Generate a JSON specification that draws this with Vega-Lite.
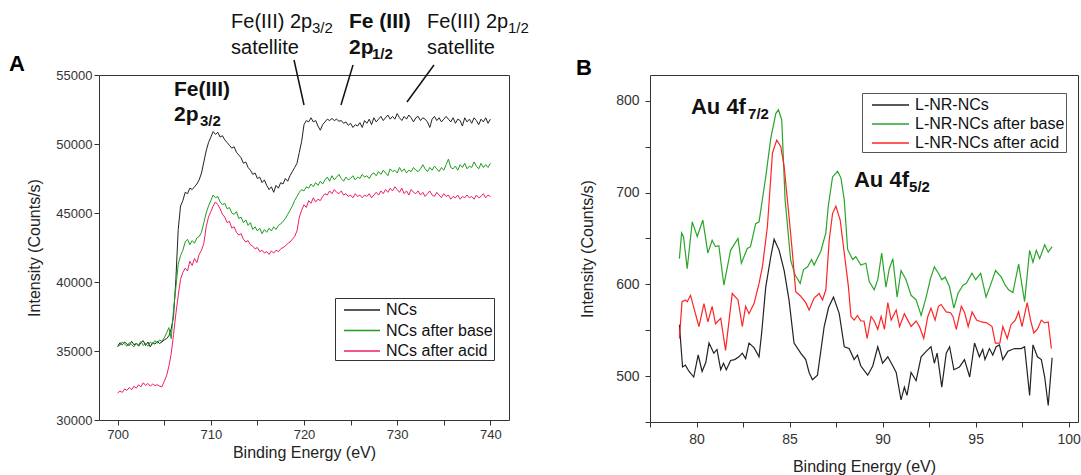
{
"$schema": "https://vega.github.io/schema/vega-lite/v6.json",
"padding": {"left": 8, "top": 10, "right": 2, "bottom": 0},
"spacing": 45,
"config": {
  "font": "Liberation Sans",
  "view": {"stroke": "#333", "strokeWidth": 1},
  "axis": {"grid": false, "domain": false, "tickColor": "#333", "labelColor": "#333", "labelFont": "Liberation Sans", "titleFont": "Liberation Sans", "titleFontWeight": "normal", "titleColor": "#222", "titleFontSize": 16},
  "legend": {"labelFont": "Liberation Sans"}
},
"resolve": {"scale": {"color": "independent"}, "legend": {"color": "independent"}},
"datasets": {
"fe": [
{"s":"NCs","x":700.0,"y":35300},{"s":"NCs","x":700.25,"y":35600},{"s":"NCs","x":700.5,"y":35450},{"s":"NCs","x":700.75,"y":35650},{"s":"NCs","x":701.0,"y":35500},{"s":"NCs","x":701.25,"y":35400},{"s":"NCs","x":701.5,"y":35700},{"s":"NCs","x":701.75,"y":35450},{"s":"NCs","x":702.0,"y":35550},{"s":"NCs","x":702.25,"y":35350},{"s":"NCs","x":702.5,"y":35600},{"s":"NCs","x":702.75,"y":35750},{"s":"NCs","x":703.0,"y":35400},{"s":"NCs","x":703.25,"y":35650},{"s":"NCs","x":703.5,"y":35300},{"s":"NCs","x":703.75,"y":35600},{"s":"NCs","x":704.0,"y":35500},{"s":"NCs","x":704.25,"y":35700},{"s":"NCs","x":704.5,"y":35550},{"s":"NCs","x":704.75,"y":35650},{"s":"NCs","x":705.0,"y":35800},{"s":"NCs","x":705.25,"y":35900},{"s":"NCs","x":705.5,"y":36100},{"s":"NCs","x":705.75,"y":36600},{"s":"NCs","x":706.0,"y":37500},{"s":"NCs","x":706.25,"y":40200},{"s":"NCs","x":706.5,"y":43800},{"s":"NCs","x":706.75,"y":45500},{"s":"NCs","x":707.0,"y":45900},{"s":"NCs","x":707.25,"y":46500},{"s":"NCs","x":707.5,"y":46400},{"s":"NCs","x":707.75,"y":46800},{"s":"NCs","x":708.0,"y":46700},{"s":"NCs","x":708.25,"y":46900},{"s":"NCs","x":708.5,"y":47100},{"s":"NCs","x":708.75,"y":47400},{"s":"NCs","x":709.0,"y":47900},{"s":"NCs","x":709.25,"y":48700},{"s":"NCs","x":709.5,"y":49500},{"s":"NCs","x":709.75,"y":50100},{"s":"NCs","x":710.0,"y":50500},{"s":"NCs","x":710.25,"y":50900},{"s":"NCs","x":710.5,"y":50700},{"s":"NCs","x":710.75,"y":50850},{"s":"NCs","x":711.0,"y":50500},{"s":"NCs","x":711.25,"y":50600},{"s":"NCs","x":711.5,"y":50300},{"s":"NCs","x":711.75,"y":50100},{"s":"NCs","x":712.0,"y":49900},{"s":"NCs","x":712.25,"y":49700},{"s":"NCs","x":712.5,"y":49800},{"s":"NCs","x":712.75,"y":49400},{"s":"NCs","x":713.0,"y":49200},{"s":"NCs","x":713.25,"y":49000},{"s":"NCs","x":713.5,"y":48600},{"s":"NCs","x":713.75,"y":48700},{"s":"NCs","x":714.0,"y":48300},{"s":"NCs","x":714.25,"y":48100},{"s":"NCs","x":714.5,"y":47800},{"s":"NCs","x":714.75,"y":47900},{"s":"NCs","x":715.0,"y":47500},{"s":"NCs","x":715.25,"y":47600},{"s":"NCs","x":715.5,"y":47200},{"s":"NCs","x":715.75,"y":47400},{"s":"NCs","x":716.0,"y":47000},{"s":"NCs","x":716.25,"y":46700},{"s":"NCs","x":716.5,"y":46900},{"s":"NCs","x":716.75,"y":46500},{"s":"NCs","x":717.0,"y":47000},{"s":"NCs","x":717.25,"y":46800},{"s":"NCs","x":717.5,"y":47200},{"s":"NCs","x":717.75,"y":47100},{"s":"NCs","x":718.0,"y":47500},{"s":"NCs","x":718.25,"y":47300},{"s":"NCs","x":718.5,"y":47700},{"s":"NCs","x":718.75,"y":48000},{"s":"NCs","x":719.0,"y":48300},{"s":"NCs","x":719.25,"y":48600},{"s":"NCs","x":719.5,"y":49400},{"s":"NCs","x":719.75,"y":50200},{"s":"NCs","x":720.0,"y":51400},{"s":"NCs","x":720.25,"y":51700},{"s":"NCs","x":720.5,"y":51600},{"s":"NCs","x":720.75,"y":51900},{"s":"NCs","x":721.0,"y":51600},{"s":"NCs","x":721.25,"y":51700},{"s":"NCs","x":721.5,"y":51300},{"s":"NCs","x":721.75,"y":51000},{"s":"NCs","x":722.0,"y":51400},{"s":"NCs","x":722.25,"y":51600},{"s":"NCs","x":722.5,"y":51800},{"s":"NCs","x":722.75,"y":51700},{"s":"NCs","x":723.0,"y":51850},{"s":"NCs","x":723.25,"y":51700},{"s":"NCs","x":723.5,"y":51800},{"s":"NCs","x":723.75,"y":51650},{"s":"NCs","x":724.0,"y":51700},{"s":"NCs","x":724.25,"y":51500},{"s":"NCs","x":724.5,"y":51600},{"s":"NCs","x":724.75,"y":51350},{"s":"NCs","x":725.0,"y":51500},{"s":"NCs","x":725.25,"y":51200},{"s":"NCs","x":725.5,"y":51400},{"s":"NCs","x":725.75,"y":51300},{"s":"NCs","x":726.0,"y":51550},{"s":"NCs","x":726.25,"y":51200},{"s":"NCs","x":726.5,"y":51700},{"s":"NCs","x":726.75,"y":51500},{"s":"NCs","x":727.0,"y":51800},{"s":"NCs","x":727.25,"y":51400},{"s":"NCs","x":727.5,"y":51900},{"s":"NCs","x":727.75,"y":51600},{"s":"NCs","x":728.0,"y":51800},{"s":"NCs","x":728.25,"y":52000},{"s":"NCs","x":728.5,"y":51700},{"s":"NCs","x":728.75,"y":51900},{"s":"NCs","x":729.0,"y":52100},{"s":"NCs","x":729.25,"y":51800},{"s":"NCs","x":729.5,"y":52000},{"s":"NCs","x":729.75,"y":51800},{"s":"NCs","x":730.0,"y":52200},{"s":"NCs","x":730.25,"y":51900},{"s":"NCs","x":730.5,"y":51700},{"s":"NCs","x":730.75,"y":52000},{"s":"NCs","x":731.0,"y":51800},{"s":"NCs","x":731.25,"y":52100},{"s":"NCs","x":731.5,"y":51900},{"s":"NCs","x":731.75,"y":51600},{"s":"NCs","x":732.0,"y":51900},{"s":"NCs","x":732.25,"y":52000},{"s":"NCs","x":732.5,"y":51700},{"s":"NCs","x":732.75,"y":51900},{"s":"NCs","x":733.0,"y":51800},{"s":"NCs","x":733.25,"y":51600},{"s":"NCs","x":733.5,"y":51200},{"s":"NCs","x":733.75,"y":51800},{"s":"NCs","x":734.0,"y":52000},{"s":"NCs","x":734.25,"y":51700},{"s":"NCs","x":734.5,"y":51900},{"s":"NCs","x":734.75,"y":51600},{"s":"NCs","x":735.0,"y":51800},{"s":"NCs","x":735.25,"y":52000},{"s":"NCs","x":735.5,"y":51800},{"s":"NCs","x":735.75,"y":51600},{"s":"NCs","x":736.0,"y":51900},{"s":"NCs","x":736.25,"y":51500},{"s":"NCs","x":736.5,"y":51800},{"s":"NCs","x":736.75,"y":51700},{"s":"NCs","x":737.0,"y":51300},{"s":"NCs","x":737.25,"y":51900},{"s":"NCs","x":737.5,"y":51600},{"s":"NCs","x":737.75,"y":51800},{"s":"NCs","x":738.0,"y":51500},{"s":"NCs","x":738.25,"y":51900},{"s":"NCs","x":738.5,"y":51700},{"s":"NCs","x":738.75,"y":51400},{"s":"NCs","x":739.0,"y":51800},{"s":"NCs","x":739.25,"y":51600},{"s":"NCs","x":739.5,"y":51900},{"s":"NCs","x":739.75,"y":51500},{"s":"NCs","x":740.0,"y":51800},
{"s":"NCs after base","x":700.0,"y":35500},{"s":"NCs after base","x":700.25,"y":35400},{"s":"NCs after base","x":700.5,"y":35650},{"s":"NCs after base","x":700.75,"y":35500},{"s":"NCs after base","x":701.0,"y":35350},{"s":"NCs after base","x":701.25,"y":35600},{"s":"NCs after base","x":701.5,"y":35450},{"s":"NCs after base","x":701.75,"y":35300},{"s":"NCs after base","x":702.0,"y":35550},{"s":"NCs after base","x":702.25,"y":35450},{"s":"NCs after base","x":702.5,"y":35700},{"s":"NCs after base","x":702.75,"y":35400},{"s":"NCs after base","x":703.0,"y":35550},{"s":"NCs after base","x":703.25,"y":35350},{"s":"NCs after base","x":703.5,"y":35650},{"s":"NCs after base","x":703.75,"y":35500},{"s":"NCs after base","x":704.0,"y":35750},{"s":"NCs after base","x":704.25,"y":35550},{"s":"NCs after base","x":704.5,"y":35800},{"s":"NCs after base","x":704.75,"y":35700},{"s":"NCs after base","x":705.0,"y":35950},{"s":"NCs after base","x":705.25,"y":36300},{"s":"NCs after base","x":705.5,"y":36700},{"s":"NCs after base","x":705.75,"y":35900},{"s":"NCs after base","x":706.0,"y":38000},{"s":"NCs after base","x":706.25,"y":39600},{"s":"NCs after base","x":706.5,"y":41300},{"s":"NCs after base","x":706.75,"y":41900},{"s":"NCs after base","x":707.0,"y":42300},{"s":"NCs after base","x":707.25,"y":42900},{"s":"NCs after base","x":707.5,"y":43100},{"s":"NCs after base","x":707.75,"y":42700},{"s":"NCs after base","x":708.0,"y":43000},{"s":"NCs after base","x":708.25,"y":42800},{"s":"NCs after base","x":708.5,"y":43200},{"s":"NCs after base","x":708.75,"y":43300},{"s":"NCs after base","x":709.0,"y":43600},{"s":"NCs after base","x":709.25,"y":44300},{"s":"NCs after base","x":709.5,"y":45000},{"s":"NCs after base","x":709.75,"y":45500},{"s":"NCs after base","x":710.0,"y":45900},{"s":"NCs after base","x":710.25,"y":46300},{"s":"NCs after base","x":710.5,"y":46100},{"s":"NCs after base","x":710.75,"y":46200},{"s":"NCs after base","x":711.0,"y":45800},{"s":"NCs after base","x":711.25,"y":45600},{"s":"NCs after base","x":711.5,"y":45700},{"s":"NCs after base","x":711.75,"y":45300},{"s":"NCs after base","x":712.0,"y":45400},{"s":"NCs after base","x":712.25,"y":45000},{"s":"NCs after base","x":712.5,"y":44900},{"s":"NCs after base","x":712.75,"y":45100},{"s":"NCs after base","x":713.0,"y":44600},{"s":"NCs after base","x":713.25,"y":44700},{"s":"NCs after base","x":713.5,"y":44300},{"s":"NCs after base","x":713.75,"y":44500},{"s":"NCs after base","x":714.0,"y":44100},{"s":"NCs after base","x":714.25,"y":44300},{"s":"NCs after base","x":714.5,"y":43800},{"s":"NCs after base","x":714.75,"y":44000},{"s":"NCs after base","x":715.0,"y":43700},{"s":"NCs after base","x":715.25,"y":43900},{"s":"NCs after base","x":715.5,"y":43500},{"s":"NCs after base","x":715.75,"y":43800},{"s":"NCs after base","x":716.0,"y":43600},{"s":"NCs after base","x":716.25,"y":43900},{"s":"NCs after base","x":716.5,"y":43700},{"s":"NCs after base","x":716.75,"y":44000},{"s":"NCs after base","x":717.0,"y":43800},{"s":"NCs after base","x":717.25,"y":44100},{"s":"NCs after base","x":717.5,"y":44200},{"s":"NCs after base","x":717.75,"y":44400},{"s":"NCs after base","x":718.0,"y":44600},{"s":"NCs after base","x":718.25,"y":44900},{"s":"NCs after base","x":718.5,"y":45200},{"s":"NCs after base","x":718.75,"y":45500},{"s":"NCs after base","x":719.0,"y":45900},{"s":"NCs after base","x":719.25,"y":46200},{"s":"NCs after base","x":719.5,"y":46500},{"s":"NCs after base","x":719.75,"y":46700},{"s":"NCs after base","x":720.0,"y":46600},{"s":"NCs after base","x":720.25,"y":46900},{"s":"NCs after base","x":720.5,"y":46800},{"s":"NCs after base","x":720.75,"y":47100},{"s":"NCs after base","x":721.0,"y":46900},{"s":"NCs after base","x":721.25,"y":47200},{"s":"NCs after base","x":721.5,"y":47000},{"s":"NCs after base","x":721.75,"y":47300},{"s":"NCs after base","x":722.0,"y":47100},{"s":"NCs after base","x":722.25,"y":47400},{"s":"NCs after base","x":722.5,"y":47600},{"s":"NCs after base","x":722.75,"y":47300},{"s":"NCs after base","x":723.0,"y":47700},{"s":"NCs after base","x":723.25,"y":47400},{"s":"NCs after base","x":723.5,"y":47600},{"s":"NCs after base","x":723.75,"y":47800},{"s":"NCs after base","x":724.0,"y":47500},{"s":"NCs after base","x":724.25,"y":47300},{"s":"NCs after base","x":724.5,"y":47600},{"s":"NCs after base","x":724.75,"y":47400},{"s":"NCs after base","x":725.0,"y":47500},{"s":"NCs after base","x":725.25,"y":47700},{"s":"NCs after base","x":725.5,"y":47400},{"s":"NCs after base","x":725.75,"y":47600},{"s":"NCs after base","x":726.0,"y":47500},{"s":"NCs after base","x":726.25,"y":47800},{"s":"NCs after base","x":726.5,"y":47600},{"s":"NCs after base","x":726.75,"y":47700},{"s":"NCs after base","x":727.0,"y":47500},{"s":"NCs after base","x":727.25,"y":47800},{"s":"NCs after base","x":727.5,"y":47900},{"s":"NCs after base","x":727.75,"y":47700},{"s":"NCs after base","x":728.0,"y":48000},{"s":"NCs after base","x":728.25,"y":47800},{"s":"NCs after base","x":728.5,"y":48100},{"s":"NCs after base","x":728.75,"y":47900},{"s":"NCs after base","x":729.0,"y":47700},{"s":"NCs after base","x":729.25,"y":48200},{"s":"NCs after base","x":729.5,"y":48000},{"s":"NCs after base","x":729.75,"y":48100},{"s":"NCs after base","x":730.0,"y":47900},{"s":"NCs after base","x":730.25,"y":48300},{"s":"NCs after base","x":730.5,"y":48000},{"s":"NCs after base","x":730.75,"y":48200},{"s":"NCs after base","x":731.0,"y":47900},{"s":"NCs after base","x":731.25,"y":48100},{"s":"NCs after base","x":731.5,"y":48000},{"s":"NCs after base","x":731.75,"y":48300},{"s":"NCs after base","x":732.0,"y":48100},{"s":"NCs after base","x":732.25,"y":48000},{"s":"NCs after base","x":732.5,"y":48200},{"s":"NCs after base","x":732.75,"y":48500},{"s":"NCs after base","x":733.0,"y":48200},{"s":"NCs after base","x":733.25,"y":48000},{"s":"NCs after base","x":733.5,"y":48300},{"s":"NCs after base","x":733.75,"y":48100},{"s":"NCs after base","x":734.0,"y":48400},{"s":"NCs after base","x":734.25,"y":48200},{"s":"NCs after base","x":734.5,"y":48000},{"s":"NCs after base","x":734.75,"y":48300},{"s":"NCs after base","x":735.0,"y":48100},{"s":"NCs after base","x":735.25,"y":48500},{"s":"NCs after base","x":735.5,"y":48900},{"s":"NCs after base","x":735.75,"y":48300},{"s":"NCs after base","x":736.0,"y":48200},{"s":"NCs after base","x":736.25,"y":48400},{"s":"NCs after base","x":736.5,"y":48100},{"s":"NCs after base","x":736.75,"y":48500},{"s":"NCs after base","x":737.0,"y":48300},{"s":"NCs after base","x":737.25,"y":48600},{"s":"NCs after base","x":737.5,"y":48200},{"s":"NCs after base","x":737.75,"y":48400},{"s":"NCs after base","x":738.0,"y":48300},{"s":"NCs after base","x":738.25,"y":48700},{"s":"NCs after base","x":738.5,"y":48400},{"s":"NCs after base","x":738.75,"y":48200},{"s":"NCs after base","x":739.0,"y":48600},{"s":"NCs after base","x":739.25,"y":48300},{"s":"NCs after base","x":739.5,"y":48500},{"s":"NCs after base","x":739.75,"y":48300},{"s":"NCs after base","x":740.0,"y":48600},
{"s":"NCs after acid","x":700.0,"y":31950},{"s":"NCs after acid","x":700.25,"y":32100},{"s":"NCs after acid","x":700.5,"y":32000},{"s":"NCs after acid","x":700.75,"y":32250},{"s":"NCs after acid","x":701.0,"y":32150},{"s":"NCs after acid","x":701.25,"y":32350},{"s":"NCs after acid","x":701.5,"y":32200},{"s":"NCs after acid","x":701.75,"y":32450},{"s":"NCs after acid","x":702.0,"y":32300},{"s":"NCs after acid","x":702.25,"y":32550},{"s":"NCs after acid","x":702.5,"y":32400},{"s":"NCs after acid","x":702.75,"y":32700},{"s":"NCs after acid","x":703.0,"y":32500},{"s":"NCs after acid","x":703.25,"y":32650},{"s":"NCs after acid","x":703.5,"y":32450},{"s":"NCs after acid","x":703.75,"y":32600},{"s":"NCs after acid","x":704.0,"y":32500},{"s":"NCs after acid","x":704.25,"y":32550},{"s":"NCs after acid","x":704.5,"y":32450},{"s":"NCs after acid","x":704.75,"y":32400},{"s":"NCs after acid","x":705.0,"y":32800},{"s":"NCs after acid","x":705.25,"y":33200},{"s":"NCs after acid","x":705.5,"y":33900},{"s":"NCs after acid","x":705.75,"y":34800},{"s":"NCs after acid","x":706.0,"y":36200},{"s":"NCs after acid","x":706.25,"y":37700},{"s":"NCs after acid","x":706.5,"y":39000},{"s":"NCs after acid","x":706.75,"y":40200},{"s":"NCs after acid","x":707.0,"y":40700},{"s":"NCs after acid","x":707.25,"y":41000},{"s":"NCs after acid","x":707.5,"y":40800},{"s":"NCs after acid","x":707.75,"y":41500},{"s":"NCs after acid","x":708.0,"y":41200},{"s":"NCs after acid","x":708.25,"y":41700},{"s":"NCs after acid","x":708.5,"y":41400},{"s":"NCs after acid","x":708.75,"y":42000},{"s":"NCs after acid","x":709.0,"y":42300},{"s":"NCs after acid","x":709.25,"y":42800},{"s":"NCs after acid","x":709.5,"y":44000},{"s":"NCs after acid","x":709.75,"y":44700},{"s":"NCs after acid","x":710.0,"y":45100},{"s":"NCs after acid","x":710.25,"y":45500},{"s":"NCs after acid","x":710.5,"y":45800},{"s":"NCs after acid","x":710.75,"y":45600},{"s":"NCs after acid","x":711.0,"y":45300},{"s":"NCs after acid","x":711.25,"y":44900},{"s":"NCs after acid","x":711.5,"y":44700},{"s":"NCs after acid","x":711.75,"y":44300},{"s":"NCs after acid","x":712.0,"y":44400},{"s":"NCs after acid","x":712.25,"y":43900},{"s":"NCs after acid","x":712.5,"y":44000},{"s":"NCs after acid","x":712.75,"y":43600},{"s":"NCs after acid","x":713.0,"y":43400},{"s":"NCs after acid","x":713.25,"y":43500},{"s":"NCs after acid","x":713.5,"y":43100},{"s":"NCs after acid","x":713.75,"y":42900},{"s":"NCs after acid","x":714.0,"y":43000},{"s":"NCs after acid","x":714.25,"y":42700},{"s":"NCs after acid","x":714.5,"y":42600},{"s":"NCs after acid","x":714.75,"y":42400},{"s":"NCs after acid","x":715.0,"y":42500},{"s":"NCs after acid","x":715.25,"y":42200},{"s":"NCs after acid","x":715.5,"y":42300},{"s":"NCs after acid","x":715.75,"y":42100},{"s":"NCs after acid","x":716.0,"y":42200},{"s":"NCs after acid","x":716.25,"y":42000},{"s":"NCs after acid","x":716.5,"y":42250},{"s":"NCs after acid","x":716.75,"y":42100},{"s":"NCs after acid","x":717.0,"y":42300},{"s":"NCs after acid","x":717.25,"y":42200},{"s":"NCs after acid","x":717.5,"y":42400},{"s":"NCs after acid","x":717.75,"y":42500},{"s":"NCs after acid","x":718.0,"y":42600},{"s":"NCs after acid","x":718.25,"y":42800},{"s":"NCs after acid","x":718.5,"y":42900},{"s":"NCs after acid","x":718.75,"y":43100},{"s":"NCs after acid","x":719.0,"y":43300},{"s":"NCs after acid","x":719.25,"y":43700},{"s":"NCs after acid","x":719.5,"y":44700},{"s":"NCs after acid","x":719.75,"y":45200},{"s":"NCs after acid","x":720.0,"y":45600},{"s":"NCs after acid","x":720.25,"y":45400},{"s":"NCs after acid","x":720.5,"y":45900},{"s":"NCs after acid","x":720.75,"y":45700},{"s":"NCs after acid","x":721.0,"y":46100},{"s":"NCs after acid","x":721.25,"y":45800},{"s":"NCs after acid","x":721.5,"y":46000},{"s":"NCs after acid","x":721.75,"y":45900},{"s":"NCs after acid","x":722.0,"y":46200},{"s":"NCs after acid","x":722.25,"y":46400},{"s":"NCs after acid","x":722.5,"y":46300},{"s":"NCs after acid","x":722.75,"y":46600},{"s":"NCs after acid","x":723.0,"y":46400},{"s":"NCs after acid","x":723.25,"y":46700},{"s":"NCs after acid","x":723.5,"y":46500},{"s":"NCs after acid","x":723.75,"y":46400},{"s":"NCs after acid","x":724.0,"y":46600},{"s":"NCs after acid","x":724.25,"y":46300},{"s":"NCs after acid","x":724.5,"y":46400},{"s":"NCs after acid","x":724.75,"y":46200},{"s":"NCs after acid","x":725.0,"y":46300},{"s":"NCs after acid","x":725.25,"y":46100},{"s":"NCs after acid","x":725.5,"y":46400},{"s":"NCs after acid","x":725.75,"y":46200},{"s":"NCs after acid","x":726.0,"y":46300},{"s":"NCs after acid","x":726.25,"y":46100},{"s":"NCs after acid","x":726.5,"y":46300},{"s":"NCs after acid","x":726.75,"y":46200},{"s":"NCs after acid","x":727.0,"y":46400},{"s":"NCs after acid","x":727.25,"y":46100},{"s":"NCs after acid","x":727.5,"y":46300},{"s":"NCs after acid","x":727.75,"y":46500},{"s":"NCs after acid","x":728.0,"y":46300},{"s":"NCs after acid","x":728.25,"y":46600},{"s":"NCs after acid","x":728.5,"y":46400},{"s":"NCs after acid","x":728.75,"y":46700},{"s":"NCs after acid","x":729.0,"y":46500},{"s":"NCs after acid","x":729.25,"y":46800},{"s":"NCs after acid","x":729.5,"y":46600},{"s":"NCs after acid","x":729.75,"y":46900},{"s":"NCs after acid","x":730.0,"y":46700},{"s":"NCs after acid","x":730.25,"y":46500},{"s":"NCs after acid","x":730.5,"y":46800},{"s":"NCs after acid","x":730.75,"y":46400},{"s":"NCs after acid","x":731.0,"y":46600},{"s":"NCs after acid","x":731.25,"y":46300},{"s":"NCs after acid","x":731.5,"y":46700},{"s":"NCs after acid","x":731.75,"y":46500},{"s":"NCs after acid","x":732.0,"y":46400},{"s":"NCs after acid","x":732.25,"y":46600},{"s":"NCs after acid","x":732.5,"y":46300},{"s":"NCs after acid","x":732.75,"y":46500},{"s":"NCs after acid","x":733.0,"y":46200},{"s":"NCs after acid","x":733.25,"y":46400},{"s":"NCs after acid","x":733.5,"y":46600},{"s":"NCs after acid","x":733.75,"y":46300},{"s":"NCs after acid","x":734.0,"y":46200},{"s":"NCs after acid","x":734.25,"y":46500},{"s":"NCs after acid","x":734.5,"y":46300},{"s":"NCs after acid","x":734.75,"y":46100},{"s":"NCs after acid","x":735.0,"y":46400},{"s":"NCs after acid","x":735.25,"y":46200},{"s":"NCs after acid","x":735.5,"y":46300},{"s":"NCs after acid","x":735.75,"y":46000},{"s":"NCs after acid","x":736.0,"y":46200},{"s":"NCs after acid","x":736.25,"y":46100},{"s":"NCs after acid","x":736.5,"y":46300},{"s":"NCs after acid","x":736.75,"y":46000},{"s":"NCs after acid","x":737.0,"y":46200},{"s":"NCs after acid","x":737.25,"y":46100},{"s":"NCs after acid","x":737.5,"y":46300},{"s":"NCs after acid","x":737.75,"y":46100},{"s":"NCs after acid","x":738.0,"y":46200},{"s":"NCs after acid","x":738.25,"y":46000},{"s":"NCs after acid","x":738.5,"y":46300},{"s":"NCs after acid","x":738.75,"y":46100},{"s":"NCs after acid","x":739.0,"y":46200},{"s":"NCs after acid","x":739.25,"y":46400},{"s":"NCs after acid","x":739.5,"y":46100},{"s":"NCs after acid","x":739.75,"y":46300},{"s":"NCs after acid","x":740.0,"y":46200}
],
"au": [
{"s":"L-NR-NCs","x":79.08,"y":556},{"s":"L-NR-NCs","x":79.25,"y":510},{"s":"L-NR-NCs","x":79.4,"y":512},{"s":"L-NR-NCs","x":79.6,"y":505},{"s":"L-NR-NCs","x":79.85,"y":499},{"s":"L-NR-NCs","x":80.09,"y":523},{"s":"L-NR-NCs","x":80.3,"y":505},{"s":"L-NR-NCs","x":80.5,"y":515},{"s":"L-NR-NCs","x":80.67,"y":536},{"s":"L-NR-NCs","x":80.93,"y":525},{"s":"L-NR-NCs","x":81.1,"y":529},{"s":"L-NR-NCs","x":81.3,"y":507},{"s":"L-NR-NCs","x":81.45,"y":514},{"s":"L-NR-NCs","x":81.6,"y":507},{"s":"L-NR-NCs","x":81.83,"y":517},{"s":"L-NR-NCs","x":82.05,"y":518},{"s":"L-NR-NCs","x":82.28,"y":521},{"s":"L-NR-NCs","x":82.46,"y":525},{"s":"L-NR-NCs","x":82.64,"y":519},{"s":"L-NR-NCs","x":82.82,"y":536},{"s":"L-NR-NCs","x":83.09,"y":531},{"s":"L-NR-NCs","x":83.36,"y":521},{"s":"L-NR-NCs","x":83.5,"y":547},{"s":"L-NR-NCs","x":83.72,"y":597},{"s":"L-NR-NCs","x":83.99,"y":630},{"s":"L-NR-NCs","x":84.17,"y":649},{"s":"L-NR-NCs","x":84.44,"y":637},{"s":"L-NR-NCs","x":84.71,"y":615},{"s":"L-NR-NCs","x":84.97,"y":583},{"s":"L-NR-NCs","x":85.24,"y":536},{"s":"L-NR-NCs","x":85.6,"y":525},{"s":"L-NR-NCs","x":85.87,"y":518},{"s":"L-NR-NCs","x":86.05,"y":504},{"s":"L-NR-NCs","x":86.23,"y":496},{"s":"L-NR-NCs","x":86.5,"y":501},{"s":"L-NR-NCs","x":86.86,"y":554},{"s":"L-NR-NCs","x":87.1,"y":575},{"s":"L-NR-NCs","x":87.36,"y":586},{"s":"L-NR-NCs","x":87.67,"y":568},{"s":"L-NR-NCs","x":87.94,"y":532},{"s":"L-NR-NCs","x":88.2,"y":530},{"s":"L-NR-NCs","x":88.47,"y":518},{"s":"L-NR-NCs","x":88.65,"y":523},{"s":"L-NR-NCs","x":88.83,"y":511},{"s":"L-NR-NCs","x":89.2,"y":501},{"s":"L-NR-NCs","x":89.47,"y":511},{"s":"L-NR-NCs","x":89.74,"y":532},{"s":"L-NR-NCs","x":90.0,"y":514},{"s":"L-NR-NCs","x":90.28,"y":521},{"s":"L-NR-NCs","x":90.55,"y":511},{"s":"L-NR-NCs","x":90.73,"y":504},{"s":"L-NR-NCs","x":90.99,"y":474},{"s":"L-NR-NCs","x":91.17,"y":488},{"s":"L-NR-NCs","x":91.31,"y":479},{"s":"L-NR-NCs","x":91.53,"y":504},{"s":"L-NR-NCs","x":91.8,"y":495},{"s":"L-NR-NCs","x":92.07,"y":521},{"s":"L-NR-NCs","x":92.34,"y":527},{"s":"L-NR-NCs","x":92.6,"y":532},{"s":"L-NR-NCs","x":92.78,"y":514},{"s":"L-NR-NCs","x":92.93,"y":525},{"s":"L-NR-NCs","x":93.18,"y":488},{"s":"L-NR-NCs","x":93.42,"y":525},{"s":"L-NR-NCs","x":93.6,"y":532},{"s":"L-NR-NCs","x":93.83,"y":507},{"s":"L-NR-NCs","x":94.13,"y":510},{"s":"L-NR-NCs","x":94.4,"y":518},{"s":"L-NR-NCs","x":94.68,"y":499},{"s":"L-NR-NCs","x":94.94,"y":536},{"s":"L-NR-NCs","x":95.2,"y":521},{"s":"L-NR-NCs","x":95.38,"y":529},{"s":"L-NR-NCs","x":95.5,"y":518},{"s":"L-NR-NCs","x":95.74,"y":530},{"s":"L-NR-NCs","x":95.92,"y":523},{"s":"L-NR-NCs","x":96.1,"y":532},{"s":"L-NR-NCs","x":96.28,"y":534},{"s":"L-NR-NCs","x":96.46,"y":518},{"s":"L-NR-NCs","x":96.73,"y":527},{"s":"L-NR-NCs","x":97.09,"y":530},{"s":"L-NR-NCs","x":97.45,"y":530},{"s":"L-NR-NCs","x":97.63,"y":532},{"s":"L-NR-NCs","x":97.9,"y":479},{"s":"L-NR-NCs","x":98.08,"y":534},{"s":"L-NR-NCs","x":98.32,"y":521},{"s":"L-NR-NCs","x":98.53,"y":518},{"s":"L-NR-NCs","x":98.71,"y":499},{"s":"L-NR-NCs","x":98.9,"y":468},{"s":"L-NR-NCs","x":99.11,"y":520},
{"s":"L-NR-NCs after base","x":79.08,"y":628},{"s":"L-NR-NCs after base","x":79.2,"y":656},{"s":"L-NR-NCs after base","x":79.3,"y":652},{"s":"L-NR-NCs after base","x":79.5,"y":617},{"s":"L-NR-NCs after base","x":79.77,"y":668},{"s":"L-NR-NCs after base","x":80.04,"y":652},{"s":"L-NR-NCs after base","x":80.34,"y":670},{"s":"L-NR-NCs after base","x":80.61,"y":634},{"s":"L-NR-NCs after base","x":80.84,"y":648},{"s":"L-NR-NCs after base","x":81.02,"y":641},{"s":"L-NR-NCs after base","x":81.2,"y":642},{"s":"L-NR-NCs after base","x":81.47,"y":599},{"s":"L-NR-NCs after base","x":81.83,"y":637},{"s":"L-NR-NCs after base","x":82.23,"y":650},{"s":"L-NR-NCs after base","x":82.41,"y":623},{"s":"L-NR-NCs after base","x":82.73,"y":639},{"s":"L-NR-NCs after base","x":82.9,"y":641},{"s":"L-NR-NCs after base","x":83.18,"y":666},{"s":"L-NR-NCs after base","x":83.36,"y":668},{"s":"L-NR-NCs after base","x":83.72,"y":717},{"s":"L-NR-NCs after base","x":83.99,"y":759},{"s":"L-NR-NCs after base","x":84.26,"y":786},{"s":"L-NR-NCs after base","x":84.4,"y":790},{"s":"L-NR-NCs after base","x":84.58,"y":779},{"s":"L-NR-NCs after base","x":84.76,"y":692},{"s":"L-NR-NCs after base","x":85.06,"y":626},{"s":"L-NR-NCs after base","x":85.3,"y":610},{"s":"L-NR-NCs after base","x":85.57,"y":601},{"s":"L-NR-NCs after base","x":85.75,"y":616},{"s":"L-NR-NCs after base","x":85.97,"y":619},{"s":"L-NR-NCs after base","x":86.18,"y":627},{"s":"L-NR-NCs after base","x":86.32,"y":621},{"s":"L-NR-NCs after base","x":86.68,"y":636},{"s":"L-NR-NCs after base","x":86.95,"y":656},{"s":"L-NR-NCs after base","x":87.08,"y":685},{"s":"L-NR-NCs after base","x":87.31,"y":717},{"s":"L-NR-NCs after base","x":87.58,"y":723},{"s":"L-NR-NCs after base","x":87.76,"y":716},{"s":"L-NR-NCs after base","x":87.94,"y":692},{"s":"L-NR-NCs after base","x":88.12,"y":638},{"s":"L-NR-NCs after base","x":88.39,"y":627},{"s":"L-NR-NCs after base","x":88.56,"y":630},{"s":"L-NR-NCs after base","x":88.83,"y":621},{"s":"L-NR-NCs after base","x":89.1,"y":623},{"s":"L-NR-NCs after base","x":89.28,"y":603},{"s":"L-NR-NCs after base","x":89.55,"y":594},{"s":"L-NR-NCs after base","x":89.74,"y":605},{"s":"L-NR-NCs after base","x":89.95,"y":634},{"s":"L-NR-NCs after base","x":90.18,"y":597},{"s":"L-NR-NCs after base","x":90.36,"y":617},{"s":"L-NR-NCs after base","x":90.55,"y":628},{"s":"L-NR-NCs after base","x":90.78,"y":586},{"s":"L-NR-NCs after base","x":90.99,"y":615},{"s":"L-NR-NCs after base","x":91.26,"y":605},{"s":"L-NR-NCs after base","x":91.53,"y":588},{"s":"L-NR-NCs after base","x":91.8,"y":583},{"s":"L-NR-NCs after base","x":92.07,"y":566},{"s":"L-NR-NCs after base","x":92.34,"y":586},{"s":"L-NR-NCs after base","x":92.57,"y":606},{"s":"L-NR-NCs after base","x":92.78,"y":619},{"s":"L-NR-NCs after base","x":93.0,"y":612},{"s":"L-NR-NCs after base","x":93.18,"y":605},{"s":"L-NR-NCs after base","x":93.36,"y":608},{"s":"L-NR-NCs after base","x":93.6,"y":597},{"s":"L-NR-NCs after base","x":93.83,"y":574},{"s":"L-NR-NCs after base","x":94.05,"y":590},{"s":"L-NR-NCs after base","x":94.32,"y":599},{"s":"L-NR-NCs after base","x":94.5,"y":601},{"s":"L-NR-NCs after base","x":94.8,"y":612},{"s":"L-NR-NCs after base","x":95.0,"y":605},{"s":"L-NR-NCs after base","x":95.27,"y":612},{"s":"L-NR-NCs after base","x":95.56,"y":586},{"s":"L-NR-NCs after base","x":95.83,"y":601},{"s":"L-NR-NCs after base","x":96.07,"y":615},{"s":"L-NR-NCs after base","x":96.37,"y":608},{"s":"L-NR-NCs after base","x":96.59,"y":599},{"s":"L-NR-NCs after base","x":96.77,"y":594},{"s":"L-NR-NCs after base","x":97.0,"y":591},{"s":"L-NR-NCs after base","x":97.31,"y":622},{"s":"L-NR-NCs after base","x":97.63,"y":581},{"s":"L-NR-NCs after base","x":97.9,"y":637},{"s":"L-NR-NCs after base","x":98.08,"y":624},{"s":"L-NR-NCs after base","x":98.26,"y":637},{"s":"L-NR-NCs after base","x":98.44,"y":628},{"s":"L-NR-NCs after base","x":98.71,"y":643},{"s":"L-NR-NCs after base","x":98.9,"y":635},{"s":"L-NR-NCs after base","x":99.11,"y":641},
{"s":"L-NR-NCs after acid","x":79.08,"y":541},{"s":"L-NR-NCs after acid","x":79.22,"y":581},{"s":"L-NR-NCs after acid","x":79.4,"y":583},{"s":"L-NR-NCs after acid","x":79.5,"y":581},{"s":"L-NR-NCs after acid","x":79.68,"y":588},{"s":"L-NR-NCs after acid","x":79.86,"y":574},{"s":"L-NR-NCs after acid","x":80.13,"y":554},{"s":"L-NR-NCs after acid","x":80.4,"y":579},{"s":"L-NR-NCs after acid","x":80.61,"y":559},{"s":"L-NR-NCs after acid","x":80.84,"y":576},{"s":"L-NR-NCs after acid","x":81.02,"y":557},{"s":"L-NR-NCs after acid","x":81.3,"y":563},{"s":"L-NR-NCs after acid","x":81.56,"y":528},{"s":"L-NR-NCs after acid","x":81.92,"y":590},{"s":"L-NR-NCs after acid","x":82.23,"y":583},{"s":"L-NR-NCs after acid","x":82.46,"y":554},{"s":"L-NR-NCs after acid","x":82.64,"y":576},{"s":"L-NR-NCs after acid","x":82.82,"y":568},{"s":"L-NR-NCs after acid","x":83.09,"y":579},{"s":"L-NR-NCs after acid","x":83.36,"y":601},{"s":"L-NR-NCs after acid","x":83.54,"y":619},{"s":"L-NR-NCs after acid","x":83.81,"y":663},{"s":"L-NR-NCs after acid","x":84.08,"y":743},{"s":"L-NR-NCs after acid","x":84.31,"y":757},{"s":"L-NR-NCs after acid","x":84.53,"y":750},{"s":"L-NR-NCs after acid","x":84.71,"y":728},{"s":"L-NR-NCs after acid","x":84.97,"y":674},{"s":"L-NR-NCs after acid","x":85.15,"y":635},{"s":"L-NR-NCs after acid","x":85.33,"y":592},{"s":"L-NR-NCs after acid","x":85.6,"y":587},{"s":"L-NR-NCs after acid","x":85.87,"y":580},{"s":"L-NR-NCs after acid","x":86.05,"y":572},{"s":"L-NR-NCs after acid","x":86.32,"y":585},{"s":"L-NR-NCs after acid","x":86.59,"y":590},{"s":"L-NR-NCs after acid","x":86.77,"y":583},{"s":"L-NR-NCs after acid","x":86.95,"y":594},{"s":"L-NR-NCs after acid","x":87.13,"y":648},{"s":"L-NR-NCs after acid","x":87.31,"y":677},{"s":"L-NR-NCs after acid","x":87.49,"y":685},{"s":"L-NR-NCs after acid","x":87.72,"y":670},{"s":"L-NR-NCs after acid","x":87.94,"y":634},{"s":"L-NR-NCs after acid","x":88.16,"y":598},{"s":"L-NR-NCs after acid","x":88.3,"y":565},{"s":"L-NR-NCs after acid","x":88.47,"y":561},{"s":"L-NR-NCs after acid","x":88.65,"y":566},{"s":"L-NR-NCs after acid","x":88.83,"y":560},{"s":"L-NR-NCs after acid","x":89.0,"y":560},{"s":"L-NR-NCs after acid","x":89.17,"y":541},{"s":"L-NR-NCs after acid","x":89.38,"y":565},{"s":"L-NR-NCs after acid","x":89.55,"y":560},{"s":"L-NR-NCs after acid","x":89.74,"y":551},{"s":"L-NR-NCs after acid","x":89.92,"y":565},{"s":"L-NR-NCs after acid","x":90.1,"y":551},{"s":"L-NR-NCs after acid","x":90.28,"y":580},{"s":"L-NR-NCs after acid","x":90.46,"y":561},{"s":"L-NR-NCs after acid","x":90.73,"y":572},{"s":"L-NR-NCs after acid","x":90.91,"y":554},{"s":"L-NR-NCs after acid","x":91.17,"y":568},{"s":"L-NR-NCs after acid","x":91.35,"y":561},{"s":"L-NR-NCs after acid","x":91.53,"y":554},{"s":"L-NR-NCs after acid","x":91.8,"y":560},{"s":"L-NR-NCs after acid","x":91.98,"y":554},{"s":"L-NR-NCs after acid","x":92.21,"y":541},{"s":"L-NR-NCs after acid","x":92.43,"y":565},{"s":"L-NR-NCs after acid","x":92.6,"y":574},{"s":"L-NR-NCs after acid","x":92.82,"y":561},{"s":"L-NR-NCs after acid","x":93.0,"y":576},{"s":"L-NR-NCs after acid","x":93.14,"y":578},{"s":"L-NR-NCs after acid","x":93.42,"y":570},{"s":"L-NR-NCs after acid","x":93.65,"y":569},{"s":"L-NR-NCs after acid","x":93.78,"y":565},{"s":"L-NR-NCs after acid","x":93.96,"y":551},{"s":"L-NR-NCs after acid","x":94.23,"y":576},{"s":"L-NR-NCs after acid","x":94.41,"y":569},{"s":"L-NR-NCs after acid","x":94.6,"y":554},{"s":"L-NR-NCs after acid","x":94.81,"y":570},{"s":"L-NR-NCs after acid","x":95.05,"y":561},{"s":"L-NR-NCs after acid","x":95.32,"y":559},{"s":"L-NR-NCs after acid","x":95.6,"y":558},{"s":"L-NR-NCs after acid","x":95.88,"y":554},{"s":"L-NR-NCs after acid","x":96.06,"y":536},{"s":"L-NR-NCs after acid","x":96.3,"y":536},{"s":"L-NR-NCs after acid","x":96.46,"y":554},{"s":"L-NR-NCs after acid","x":96.7,"y":541},{"s":"L-NR-NCs after acid","x":96.9,"y":556},{"s":"L-NR-NCs after acid","x":97.13,"y":561},{"s":"L-NR-NCs after acid","x":97.31,"y":570},{"s":"L-NR-NCs after acid","x":97.49,"y":554},{"s":"L-NR-NCs after acid","x":97.77,"y":580},{"s":"L-NR-NCs after acid","x":97.95,"y":561},{"s":"L-NR-NCs after acid","x":98.13,"y":547},{"s":"L-NR-NCs after acid","x":98.32,"y":551},{"s":"L-NR-NCs after acid","x":98.53,"y":561},{"s":"L-NR-NCs after acid","x":98.71,"y":558},{"s":"L-NR-NCs after acid","x":98.9,"y":559},{"s":"L-NR-NCs after acid","x":99.07,"y":530}
],
"feNorm": [{"t":"Fe(III) 2p","x":712.17,"y":58406},{"t":"satellite","x":712.17,"y":56522},{"t":"Fe(III) 2p","x":733.2,"y":58406},{"t":"satellite","x":733.2,"y":56522}],
"feNormSub": [{"t":"3/2","x":720.86,"y":58043},{"t":"1/2","x":741.89,"y":58043}],
"feBold": [{"t":"Fe (III)","x":724.83,"y":58406},{"t":"2p","x":724.83,"y":56522},{"t":"Fe(III)","x":706.05,"y":53478},{"t":"2p","x":706.05,"y":51667}],
"feBoldSub": [{"t":"1/2","x":727.3,"y":56159},{"t":"3/2","x":708.84,"y":51304}],
"feLetter": [{"t":"A","x":688.34,"y":55290}],
"feArrows": [{"x":720.0,"y":52826,"x2":718.93,"y2":56087},{"x":723.97,"y":52826,"x2":725.26,"y2":55725},{"x":731.05,"y":53043,"x2":733.95,"y2":55725}],
"auBold": [{"t":"Au 4f","x":79.7,"y":785.5},{"t":"Au 4f","x":88.46,"y":706.0}],
"auBoldSub": [{"t":"7/2","x":82.77,"y":780.1},{"t":"5/2","x":91.42,"y":700.6}],
"auLetter": [{"t":"B","x":73.52,"y":828}]
},
"hconcat": [
{
  "width": 410, "height": 345,
  "layer": [
    {
      "data": {"name": "fe"},
      "mark": {"type": "line", "strokeWidth": 1, "clip": true},
      "encoding": {
        "x": {"field": "x", "type": "quantitative", "scale": {"domain": [698, 742], "nice": false, "zero": false},
          "axis": {"values": [700,705,710,715,720,725,730,735,740], "format": "d", "labelExpr": "datum.value % 10 === 0 ? datum.label : ''", "title": "Binding Energy (eV)", "labelFontSize": 13, "tickSize": 5, "labelPadding": 3, "titlePadding": 3}},
        "y": {"field": "y", "type": "quantitative", "scale": {"domain": [30000, 55000], "nice": false, "zero": false},
          "axis": {"values": [30000,32500,35000,37500,40000,42500,45000,47500,50000,52500,55000], "format": "d", "labelExpr": "datum.value % 5000 === 0 ? datum.label : ''", "title": "Intensity (Counts/s)", "labelFontSize": 13, "tickSize": 5, "labelPadding": 2, "titlePadding": 13}},
        "color": {"field": "s", "type": "nominal",
          "scale": {"domain": ["NCs", "NCs after base", "NCs after acid"], "range": ["#222222", "#1e9e1e", "#ee1f66"]},
          "legend": {"orient": "none", "legendX": 236, "legendY": 223, "title": null, "symbolType": "M-0.3,0L3.3,0", "symbolSize": 400, "symbolStrokeWidth": 1.5, "labelFontSize": 16, "labelColor": "#111", "strokeColor": "#333", "fillColor": "white", "padding": 1, "rowPadding": 1.5, "labelOffset": 28}}
      }
    },
    {
      "data": {"name": "feArrows"},
      "mark": {"type": "rule", "color": "#111", "strokeWidth": 1.5},
      "encoding": {"x": {"field": "x", "type": "quantitative"}, "y": {"field": "y", "type": "quantitative"}, "x2": {"field": "x2"}, "y2": {"field": "y2"}}
    },
    {"mark": {"type": "point", "shape": "triangle-up", "filled": true, "color": "#111", "size": 45, "angle": -12.5, "opacity": 1}, "encoding": {"x": {"datum": 718.93}, "y": {"datum": 56087}}},
    {"mark": {"type": "point", "shape": "triangle-up", "filled": true, "color": "#111", "size": 45, "angle": 16.7, "opacity": 1}, "encoding": {"x": {"datum": 725.26}, "y": {"datum": 55725}}},
    {"mark": {"type": "point", "shape": "triangle-up", "filled": true, "color": "#111", "size": 45, "angle": 36, "opacity": 1}, "encoding": {"x": {"datum": 733.95}, "y": {"datum": 55725}}},
    {
      "data": {"name": "feNorm"},
      "mark": {"type": "text", "align": "left", "baseline": "alphabetic", "fontSize": 20, "color": "#111"},
      "encoding": {"x": {"field": "x", "type": "quantitative"}, "y": {"field": "y", "type": "quantitative"}, "text": {"field": "t"}}
    },
    {
      "data": {"name": "feNormSub"},
      "mark": {"type": "text", "align": "left", "baseline": "alphabetic", "fontSize": 15, "color": "#111"},
      "encoding": {"x": {"field": "x", "type": "quantitative"}, "y": {"field": "y", "type": "quantitative"}, "text": {"field": "t"}}
    },
    {
      "data": {"name": "feBold"},
      "mark": {"type": "text", "align": "left", "baseline": "alphabetic", "fontSize": 21, "fontWeight": "bold", "color": "#111"},
      "encoding": {"x": {"field": "x", "type": "quantitative"}, "y": {"field": "y", "type": "quantitative"}, "text": {"field": "t"}}
    },
    {
      "data": {"name": "feBoldSub"},
      "mark": {"type": "text", "align": "left", "baseline": "alphabetic", "fontSize": 15, "fontWeight": "bold", "color": "#111"},
      "encoding": {"x": {"field": "x", "type": "quantitative"}, "y": {"field": "y", "type": "quantitative"}, "text": {"field": "t"}}
    },
    {
      "data": {"name": "feLetter"},
      "mark": {"type": "text", "align": "left", "baseline": "alphabetic", "fontSize": 22, "fontWeight": "bold", "color": "#000"},
      "encoding": {"x": {"field": "x", "type": "quantitative"}, "y": {"field": "y", "type": "quantitative"}, "text": {"field": "t"}}
    }
  ]
},
{
  "width": 428, "height": 347,
  "layer": [
    {
      "data": {"name": "au"},
      "mark": {"type": "line", "strokeWidth": 1.2, "clip": true},
      "encoding": {
        "x": {"field": "x", "type": "quantitative", "scale": {"domain": [77.5, 100.5], "nice": false, "zero": false},
          "axis": {"values": [77.5,80,82.5,85,87.5,90,92.5,95,97.5,100], "labelExpr": "datum.value % 5 === 0 ? datum.label : ''", "title": "Binding Energy (eV)", "labelFontSize": 14, "tickSize": 5, "labelPadding": 5, "titlePadding": 12}},
        "y": {"field": "y", "type": "quantitative", "scale": {"domain": [450, 828], "nice": false, "zero": false},
          "axis": {"values": [450,500,550,600,650,700,750,800], "labelExpr": "datum.value % 100 === 0 ? datum.label : ''", "title": "Intensity (Counts/s)", "labelFontSize": 14, "tickSize": 5, "labelPadding": 6, "titlePadding": 20}},
        "color": {"field": "s", "type": "nominal",
          "scale": {"domain": ["L-NR-NCs", "L-NR-NCs after base", "L-NR-NCs after acid"], "range": ["#222222", "#2aa52a", "#ff2424"]},
          "legend": {"orient": "none", "legendX": 212, "legendY": 18, "title": null, "symbolType": "M-0.2,0L3.5,0", "symbolSize": 400, "symbolStrokeWidth": 1.5, "labelFontSize": 16, "labelColor": "#111", "strokeColor": "#555", "fillColor": "white", "padding": 1, "rowPadding": 0, "labelOffset": 30}}
      }
    },
    {
      "data": {"name": "auBold"},
      "mark": {"type": "text", "align": "left", "baseline": "alphabetic", "fontSize": 22, "fontWeight": "bold", "color": "#111"},
      "encoding": {"x": {"field": "x", "type": "quantitative"}, "y": {"field": "y", "type": "quantitative"}, "text": {"field": "t"}}
    },
    {
      "data": {"name": "auBoldSub"},
      "mark": {"type": "text", "align": "left", "baseline": "alphabetic", "fontSize": 15, "fontWeight": "bold", "color": "#111"},
      "encoding": {"x": {"field": "x", "type": "quantitative"}, "y": {"field": "y", "type": "quantitative"}, "text": {"field": "t"}}
    },
    {
      "data": {"name": "auLetter"},
      "mark": {"type": "text", "align": "left", "baseline": "alphabetic", "fontSize": 22, "fontWeight": "bold", "color": "#000"},
      "encoding": {"x": {"field": "x", "type": "quantitative"}, "y": {"field": "y", "type": "quantitative"}, "text": {"field": "t"}}
    }
  ]
}
]
}
